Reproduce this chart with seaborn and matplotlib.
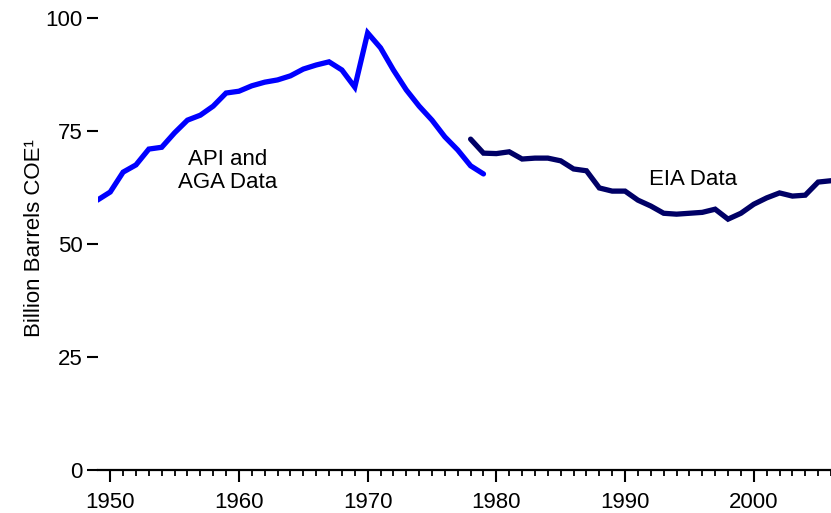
import matplotlib
matplotlib.use("Agg")
import matplotlib.pyplot as plt
from matplotlib.ticker import MultipleLocator
import seaborn as sns
import pandas as pd

api_years = list(range(1949, 1980))
api_values = [59.7, 61.5, 65.9, 67.5, 71.0, 71.4, 74.6, 77.4, 78.5, 80.5,
              83.4, 83.8, 85.0, 85.8, 86.3, 87.2, 88.7, 89.6, 90.3, 88.5,
              84.7, 96.7, 93.4, 88.5, 84.1, 80.5, 77.4, 73.7, 70.8, 67.3,
              65.5]

eia_years = list(range(1978, 2007))
eia_values = [73.2, 70.1, 70.0, 70.4, 68.8, 69.0, 69.0, 68.4, 66.6, 66.2,
              62.4, 61.7, 61.7, 59.7, 58.4, 56.8, 56.6, 56.8, 57.0, 57.7,
              55.5, 56.8, 58.8, 60.2, 61.3, 60.6, 60.8, 63.7, 64.0]

y_ticks = [0, 25, 50, 75, 100]
x_ticks = [1950, 1960, 1970, 1980, 1990, 2000]

sns.set_style("white")
plt.rcParams['font.family'] = ['Liberation Sans', 'DejaVu Sans']
plt.rcParams['text.color'] = 'black'
plt.rcParams['axes.labelcolor'] = 'black'
plt.rcParams['xtick.color'] = 'black'
plt.rcParams['ytick.color'] = 'black'

df_api = pd.DataFrame({"year": api_years, "value": api_values})
df_eia = pd.DataFrame({"year": eia_years, "value": eia_values})

fig = plt.figure(figsize=(8.31, 5.13), dpi=100)
ax = fig.add_axes([98/831, 43/513, 1 - 98/831, (470-18)/513])

sns.lineplot(data=df_api, x="year", y="value", ax=ax, color="#0000ff",
             linewidth=3.8, solid_capstyle="round", solid_joinstyle="miter")
sns.lineplot(data=df_eia, x="year", y="value", ax=ax, color="#000066",
             linewidth=3.8, solid_capstyle="round", solid_joinstyle="miter")

ax.set_xlim(1949.05, 2006)
ax.set_ylim(0, 100)
ax.set_xticks(x_ticks)
ax.xaxis.set_minor_locator(MultipleLocator(1))
ax.set_yticks(y_ticks)

for s in ["top", "right", "left"]:
    ax.spines[s].set_visible(False)
ax.spines["bottom"].set_linewidth(1.6)
ax.spines["bottom"].set_color("black")

ax.tick_params(axis="x", which="major", direction="out", length=8.6, width=1.5,
               labelsize=16, pad=7, bottom=True)
ax.tick_params(axis="x", which="minor", direction="out", length=4.3, width=1.3,
               bottom=True)
ax.tick_params(axis="y", which="major", direction="out", length=8, width=1.5,
               labelsize=16, pad=3, left=True)

ax.set_xlabel("")
ax.set_ylabel("Billion Barrels COE\u00b9", fontsize=16)
ax.yaxis.set_label_coords((45 - 98) / 733, (470 - 238) / 452)

ax.text(1959.1, 66.2, "API and\nAGA Data", fontsize=16, ha="center", va="center",
        linespacing=1.1)
ax.text(1995.3, 64.2, "EIA Data", fontsize=16, ha="center", va="center")

fig.savefig("out.png", dpi=100)
